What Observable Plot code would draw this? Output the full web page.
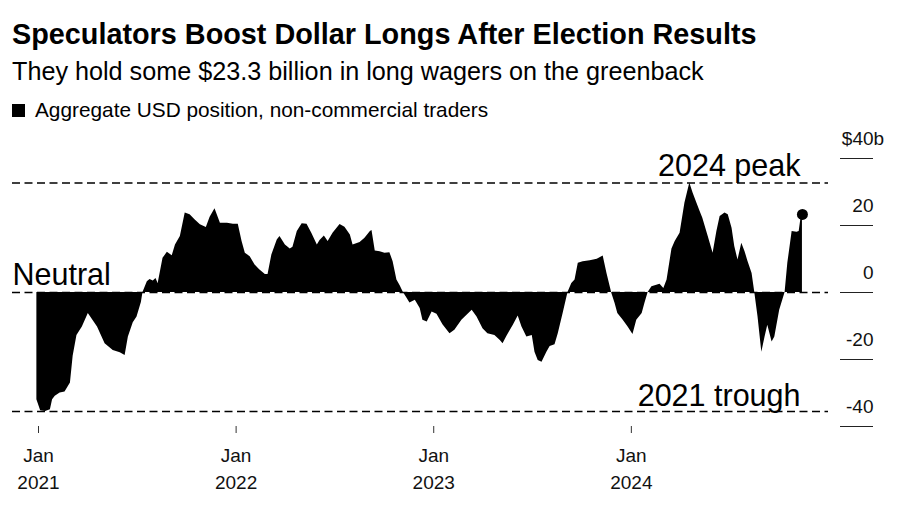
<!DOCTYPE html>
<html><head><meta charset="utf-8">
<script src="https://cdn.jsdelivr.net/npm/d3@7"></script>
<script src="https://cdn.jsdelivr.net/npm/@observablehq/plot@0.6"></script>
<style>
body{margin:0;background:#fff;font-family:"Liberation Sans",Arial,sans-serif;color:#000;}
#wrap{position:relative;width:900px;height:510px;overflow:hidden;background:#fff;}
#title{position:absolute;left:12px;top:19.5px;font-weight:bold;font-size:28.8px;line-height:1;white-space:nowrap;}
#subtitle{position:absolute;left:12px;top:59px;font-size:25.2px;line-height:1;white-space:nowrap;}
#legend{position:absolute;left:12px;top:100px;font-size:20.8px;line-height:1;white-space:nowrap;}
#legend .sw{display:inline-block;width:13px;height:13px;background:#000;position:absolute;left:0;top:4px;}
#legend .lt{position:absolute;left:23px;top:0;}
#chart{position:absolute;left:0;top:130px;}
</style></head>
<body>
<div id="wrap">
  <div id="title">Speculators Boost Dollar Longs After Election Results</div>
  <div id="subtitle">They hold some $23.3 billion in long wagers on the greenback</div>
  <div id="legend"><span class="sw"></span><span class="lt">Aggregate USD position, non-commercial traders</span></div>
  <div id="chart"></div>
</div>
<script>
// Weekly aggregate USD position of non-commercial traders, $ billions
const dates = [
"2020-12-29","2021-01-05","2021-01-14","2021-01-23","2021-01-27","2021-02-01","2021-02-10","2021-02-19","2021-03-01","2021-03-06",
"2021-03-13","2021-03-23","2021-04-03","2021-04-20","2021-05-04","2021-05-19","2021-06-01","2021-06-10","2021-06-16","2021-06-25",
"2021-07-02","2021-07-10","2021-07-13","2021-07-21","2021-07-26","2021-08-01","2021-08-06","2021-08-10","2021-08-19","2021-08-27",
"2021-09-05","2021-09-11","2021-09-20","2021-09-29","2021-10-08","2021-10-17","2021-10-27","2021-11-07","2021-11-14","2021-11-23",
"2021-12-03","2021-12-16","2021-12-27","2022-01-05","2022-01-12","2022-01-18","2022-01-27","2022-02-05","2022-02-14","2022-02-24",
"2022-03-01","2022-03-08","2022-03-18","2022-03-23","2022-04-02","2022-04-11","2022-04-16","2022-04-24","2022-05-03","2022-05-12",
"2022-05-21","2022-05-31","2022-06-05","2022-06-13","2022-06-20","2022-06-29","2022-07-12","2022-07-21","2022-07-31","2022-08-05",
"2022-08-18","2022-08-27","2022-09-06","2022-09-09","2022-09-15","2022-09-24","2022-10-03","2022-10-12","2022-10-18","2022-10-25",
"2022-10-31","2022-11-06","2022-11-13","2022-11-18","2022-11-28","2022-12-07","2022-12-12","2022-12-20","2022-12-29","2023-01-07",
"2023-01-18","2023-01-31","2023-02-09","2023-02-22","2023-03-13","2023-03-22","2023-04-02","2023-04-11","2023-04-24","2023-05-04",
"2023-05-09","2023-05-16","2023-05-28","2023-06-06","2023-06-13","2023-06-22","2023-07-02","2023-07-07","2023-07-13","2023-07-20",
"2023-07-29","2023-08-04","2023-08-13","2023-08-19","2023-08-28","2023-09-06","2023-09-13","2023-09-19","2023-09-25","2023-10-04",
"2023-10-17","2023-10-30","2023-11-10","2023-11-17","2023-11-26","2023-12-02","2023-12-07","2023-12-17","2023-12-26","2024-01-04",
"2024-01-11","2024-01-21","2024-01-26","2024-02-01","2024-02-08","2024-02-17","2024-02-23","2024-03-01","2024-03-07","2024-03-16",
"2024-03-22","2024-03-31","2024-04-09","2024-04-18","2024-04-24","2024-05-01","2024-05-07","2024-05-12","2024-05-22","2024-05-31",
"2024-06-07","2024-06-13","2024-06-22","2024-06-28","2024-07-05","2024-07-10","2024-07-16","2024-07-23","2024-07-29","2024-08-03",
"2024-08-11","2024-08-16","2024-08-22","2024-08-29","2024-09-04","2024-09-09","2024-09-17","2024-09-22","2024-10-01","2024-10-11",
"2024-10-16","2024-10-24","2024-11-02","2024-11-06","2024-11-09","2024-11-12"
];
const values = [
-32,-35.3,-35.5,-35,-32,-31,-30,-29.7,-27,-19,
-12.8,-10.3,-6.3,-10.3,-15.3,-17.3,-18,-18.8,-13.3,-9,
-7.3,-3,0,3.2,3.9,3.4,4.2,2.7,10.2,12,
11,14.2,16.7,23.7,23.2,21.7,20.2,19.4,22.5,25,
20.7,20.7,20.4,20.4,15.2,11.7,10.7,8.2,6.7,5.4,
5.4,11.2,15.7,16.7,14.2,13,13.5,18.2,20.5,20.4,
17.6,14.2,15.5,16.9,15.2,17.7,20.3,19.5,17.2,14.2,
14.9,16.2,18.2,18.5,12.4,12.2,11.7,11.9,9.2,3.7,
2,0,-1.8,-3.1,-2.3,-4.8,-8.3,-8.8,-5.8,-6.5,
-9.6,-12.3,-11.3,-8.3,-5.3,-7.3,-10.8,-12.3,-12.8,-14.3,
-15.3,-13.1,-9.8,-7,-10.3,-13.3,-12.8,-17.8,-20.3,-20.8,
-17.8,-16.1,-15.6,-12.3,-6.3,0,2.7,3.7,8.7,9.2,
9.5,9.9,10.9,5.7,-0.3,-3.3,-6.3,-8.3,-10.3,-12.5,
-8.3,-6.3,-3.3,0,1.7,2.2,2.5,1.2,3.7,13,
15.2,17.7,26.7,32.7,29.7,26.7,24.2,22.2,16.7,11.7,
18.2,22.7,23.7,23.2,19.2,13.7,9.7,14.7,12.2,9.5,
5.7,0,-7.3,-17.8,-13.3,-9.8,-14.8,-13.3,-5.3,0,
8.7,18.2,18,18.2,21.7,23.3
];
const xTickYears = [2021, 2022, 2023, 2024];
const xTickMonth = "Jan";
const yTicks = [-40, -20, 0, 20];
const yTickLabels = ["-40", "-20", "0", "20"];
const yTopTick = 40;
const yTopLabel = "$40b";
const peakLabel = "2024 peak";
const troughLabel = "2021 trough";
const neutralLabel = "Neutral";

const data = dates.map((d, i) => ({date: new Date(d + "T00:00:00Z"), value: values[i]}));
const peak = d3.max(values);
const trough = d3.min(values);
const last = data[data.length - 1];
const xTicks = xTickYears.map(y => new Date(Date.UTC(y, 0, 1)));

const chart = Plot.plot({
  width: 900,
  height: 380,
  marginTop: 28,
  marginBottom: 84,
  marginLeft: 38,
  marginRight: 71,
  style: {fontFamily: "'Liberation Sans', Arial, sans-serif", color: "#111", background: "#fff", overflow: "visible"},
  x: {type: "utc", domain: [new Date(Date.UTC(2021, 0, 1)), new Date(Date.UTC(2025, 0, 1))]},
  y: {domain: [-40, 40], axis: null},
  marks: [
    Plot.areaY(data, {x: "date", y: "value", fill: "#000"}),
    Plot.ruleY([peak, 0, trough], {stroke: "#000", strokeWidth: 1.5, strokeDasharray: "8,4.5", insetLeft: -26, insetRight: 1}),
    Plot.dot([last], {x: "date", y: "value", r: 5.5, fill: "#000"}),
    Plot.text([peak], {y: d => d, text: () => peakLabel, frameAnchor: "right", dx: -29, dy: -6.5, textAnchor: "end", lineAnchor: "bottom", fontSize: 30.5, fill: "#000"}),
    Plot.text([trough], {y: d => d, text: () => troughLabel, frameAnchor: "right", dx: -29, dy: -5.7, textAnchor: "end", lineAnchor: "bottom", fontSize: 30.5, fill: "#000"}),
    Plot.text([0], {y: d => d, text: () => neutralLabel, frameAnchor: "left", dx: -26, dy: -8, textAnchor: "start", lineAnchor: "bottom", fontSize: 30.5, fill: "#000"}),
    Plot.ruleY([...yTicks, yTopTick], {stroke: "#222", strokeWidth: 1, insetLeft: 802, insetRight: -44}),
    Plot.text(yTicks, {y: yTicks, text: yTickLabels, frameAnchor: "right", dx: 44, dy: -19.5, textAnchor: "end", lineAnchor: "middle", fontSize: 19, fill: "#111"}),
    Plot.text([yTopTick], {y: d => d, text: () => yTopLabel, frameAnchor: "right", dx: 54.6, dy: -19.5, textAnchor: "end", lineAnchor: "middle", fontSize: 19, fill: "#111"}),
    Plot.axisX({ticks: xTicks, tickSize: 7, tickPadding: 10, tickFormat: d => `${xTickMonth}\n${d.getUTCFullYear()}`, fontSize: 19, lineHeight: 1.39, label: null, stroke: "#333", color: "#111"})
  ]
});
document.getElementById("chart").appendChild(chart);
</script>
</body></html>
